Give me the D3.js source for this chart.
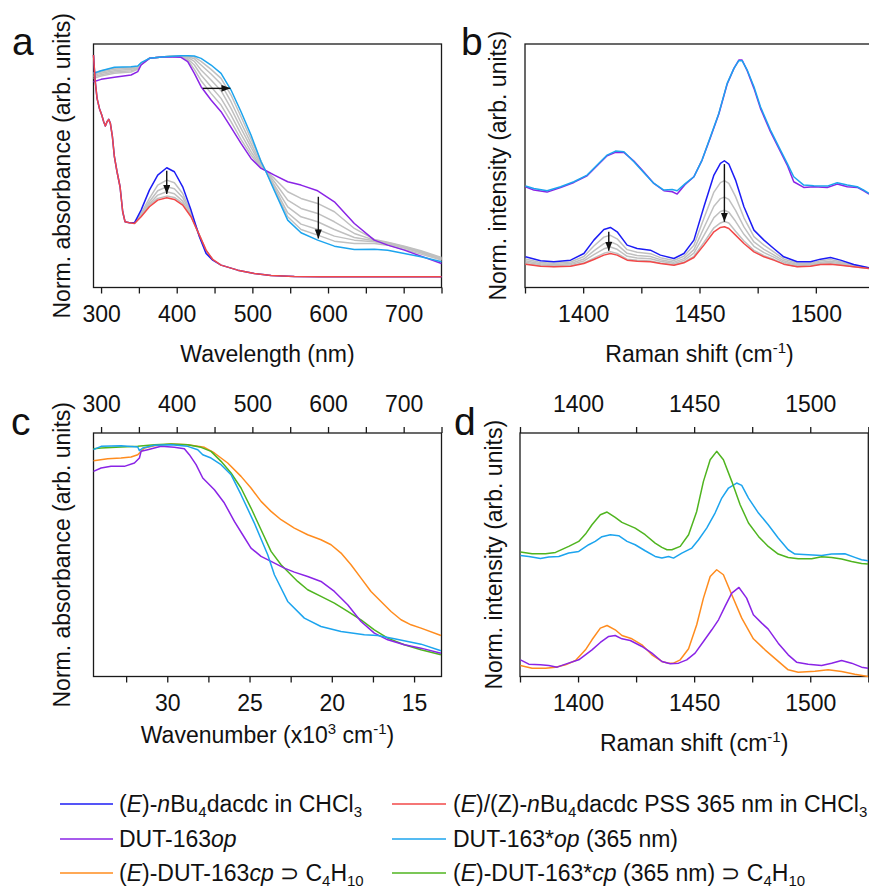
<!DOCTYPE html>
<html>
<head>
<meta charset="utf-8">
<script src="https://cdn.jsdelivr.net/npm/d3@7"></script>
<style>
  body { margin: 0; background: #fff; }
  svg { font-family: "Liberation Sans", Arial, sans-serif; }
  .frame { fill: none; stroke: #1a1a1a; stroke-width: 1.3; }
  .tick line { stroke: #1a1a1a; stroke-width: 1.3; }
  .tick text { font-size: 23px; font-family: "Liberation Sans", Arial, sans-serif; fill: #111; }
  .curve { fill: none; stroke-width: 1.5; stroke-linejoin: round; }
  .axis-title { font-size: 23px; fill: #111; }
  .panel-label { font-size: 39px; fill: #111; }
  .legend text { font-size: 23px; fill: #111; }
</style>
</head>
<body>
<svg id="fig" width="869" height="888"></svg>
<script>
// ---- panel a: UV-vis, solution (wavelength nm / norm. absorbance) ----
const solWl = [290, 292.1, 294.7, 297.8, 300.9, 303.5, 305.7, 307.9, 310.1, 312.3, 315.0, 317.6, 321.1, 325.1, 328.6, 331.7, 337.4,
  344.1, 352.9, 363.9, 374.9, 386.8, 396.9, 407.9, 418.9, 430.0, 438.8, 447.6,
  458.6, 480.6, 502.6, 524.7, 555.5, 590.7, 750];
const solBlue = [1.394, 1.244, 1.134, 1.074, 1.034, 0.994, 0.968, 0.994, 1.008, 0.984, 0.904, 0.784, 0.694, 0.604, 0.454, 0.394, 0.388,
  0.388, 0.464, 0.584, 0.674, 0.718, 0.694, 0.604, 0.464, 0.304, 0.204, 0.164,
  0.134, 0.104, 0.084, 0.072, 0.066, 0.064, 0.064];
const solRed = [1.394, 1.244, 1.134, 1.074, 1.034, 0.994, 0.968, 0.994, 1.008, 0.984, 0.904, 0.784, 0.694, 0.604, 0.454, 0.394, 0.388,
  0.384, 0.424, 0.484, 0.524, 0.538, 0.528, 0.494, 0.424, 0.314, 0.224, 0.168,
  0.134, 0.104, 0.084, 0.072, 0.066, 0.064, 0.064];
// intermediate irradiation steps, only where they differ
const solPeakWl = [344.1, 352.9, 363.9, 374.9, 386.8, 396.9, 407.9, 418.9, 430.0, 438.8, 447.6];
const solGrays = [
  [0.386, 0.444, 0.534, 0.614, 0.644, 0.628, 0.564, 0.448, 0.308, 0.212, 0.166],
  [0.386, 0.436, 0.514, 0.580, 0.604, 0.592, 0.540, 0.440, 0.310, 0.216, 0.166],
  [0.384, 0.430, 0.500, 0.554, 0.574, 0.562, 0.518, 0.432, 0.312, 0.220, 0.168],
  [0.384, 0.428, 0.494, 0.534, 0.548, 0.540, 0.504, 0.428, 0.314, 0.222, 0.168]
];

// ---- panel a: MOF op / *op ----
const mofWl = [290, 300, 317.6, 339.6, 348.5, 352.9, 363.9, 383.7, 405.7, 414.5, 423.3, 432.2, 445.4, 458.6, 471.8,
  485.0, 498.2, 511.5, 518.1, 529.1, 546.7, 564.3, 586.3, 608.4, 634.8, 661.2, 678.9, 700.9, 722.9, 750];
const mofOp = [1.234, 1.248, 1.260, 1.274, 1.294, 1.334, 1.374, 1.384, 1.380, 1.354, 1.284, 1.204, 1.124, 1.054, 0.960,
  0.864, 0.774, 0.714, 0.700, 0.674, 0.634, 0.614, 0.580, 0.514, 0.384, 0.284, 0.254, 0.224, 0.188, 0.144];
const mofOpStar = [1.284, 1.300, 1.320, 1.324, 1.328, 1.348, 1.374, 1.384, 1.390, 1.390, 1.388, 1.374, 1.334, 1.284, 1.184,
  1.054, 0.914, 0.754, 0.694, 0.580, 0.404, 0.328, 0.284, 0.248, 0.228, 0.230, 0.224, 0.204, 0.184, 0.154];
const mofGrays = [
  [1.288, 1.300, 1.314, 1.320, 1.324, 1.344, 1.374, 1.384, 1.388, 1.364, 1.308, 1.240, 1.164, 1.094, 0.994,
   0.888, 0.794, 0.720, 0.698, 0.654, 0.574, 0.534, 0.504, 0.454, 0.354, 0.288, 0.272, 0.248, 0.220, 0.180],
  [1.280, 1.292, 1.308, 1.314, 1.320, 1.342, 1.374, 1.384, 1.388, 1.372, 1.334, 1.274, 1.204, 1.134, 1.034,
   0.920, 0.814, 0.726, 0.698, 0.634, 0.524, 0.474, 0.444, 0.394, 0.324, 0.284, 0.268, 0.244, 0.216, 0.176],
  [1.272, 1.284, 1.300, 1.308, 1.316, 1.340, 1.374, 1.384, 1.388, 1.380, 1.356, 1.304, 1.244, 1.180, 1.074,
   0.954, 0.840, 0.732, 0.696, 0.614, 0.484, 0.424, 0.394, 0.348, 0.300, 0.280, 0.264, 0.240, 0.212, 0.172],
  [1.264, 1.276, 1.292, 1.300, 1.312, 1.338, 1.374, 1.384, 1.388, 1.384, 1.372, 1.334, 1.280, 1.220, 1.114,
   0.988, 0.864, 0.740, 0.696, 0.600, 0.448, 0.380, 0.348, 0.308, 0.284, 0.274, 0.260, 0.236, 0.208, 0.168],
  [1.254, 1.268, 1.284, 1.292, 1.308, 1.336, 1.374, 1.384, 1.388, 1.388, 1.382, 1.356, 1.308, 1.254, 1.154,
   1.024, 0.890, 0.756, 0.694, 0.588, 0.424, 0.348, 0.314, 0.278, 0.264, 0.264, 0.254, 0.228, 0.200, 0.164]
];
// arrows [x1, y1, x2, y2]
const arrowsA = [[434.4, 1.194, 471, 1.194], [386.8, 0.700, 386.8, 0.560], [587.2, 0.544, 587.2, 0.294]];

// ---- panel b: Raman ----
const bUpShift = [1375.2, 1378.8, 1384.5, 1390.3, 1396.0, 1401.7, 1406.0, 1410.3, 1413.9, 1417.5, 1421.8, 1426.1, 1430.4, 1434.7,
  1438.3, 1440.4, 1444.0, 1447.6, 1451.1, 1454.7, 1458.3, 1461.9, 1464.8, 1466.9, 1468.3, 1470.5, 1473.4, 1476.2, 1480.5,
  1484.8, 1487.7, 1490.5, 1494.8, 1499.1, 1504.9, 1509.2, 1513.5, 1517.8, 1520.6, 1522.9];
const bOpStar = [0.608, 0.594, 0.580, 0.604, 0.634, 0.674, 0.734, 0.794, 0.818, 0.814, 0.754, 0.688, 0.624, 0.584,
  0.588, 0.580, 0.624, 0.664, 0.764, 0.904, 1.044, 1.224, 1.314, 1.360, 1.360, 1.304, 1.204, 1.084, 0.944,
  0.824, 0.744, 0.664, 0.614, 0.610, 0.608, 0.628, 0.614, 0.604, 0.584, 0.564];
const bOp = [0.604, 0.584, 0.572, 0.600, 0.630, 0.670, 0.730, 0.790, 0.810, 0.810, 0.758, 0.692, 0.624, 0.580,
  0.574, 0.560, 0.620, 0.664, 0.764, 0.900, 1.040, 1.220, 1.314, 1.364, 1.364, 1.300, 1.194, 1.074, 0.934,
  0.814, 0.734, 0.634, 0.600, 0.604, 0.600, 0.620, 0.604, 0.600, 0.580, 0.560];
const bLowShift = [1375.2, 1381.7, 1387.4, 1394.6, 1400.3, 1404.6, 1408.9, 1411.7, 1414.6, 1418.9, 1423.2, 1428.9, 1433.2,
  1439.0, 1443.3, 1447.6, 1451.9, 1456.2, 1459.0, 1460.7, 1462.6, 1465.5, 1469.1, 1473.4, 1477.7, 1481.9, 1486.2,
  1492.0, 1497.7, 1502.0, 1506.3, 1510.6, 1516.3, 1522.9];
const bBlue = [0.184, 0.160, 0.154, 0.164, 0.204, 0.284, 0.348, 0.360, 0.334, 0.254, 0.234, 0.224, 0.194, 0.174, 0.204,
  0.284, 0.484, 0.674, 0.744, 0.760, 0.740, 0.644, 0.484, 0.344, 0.284, 0.234, 0.184, 0.154, 0.154, 0.170, 0.180,
  0.164, 0.138, 0.118];
const bRed = [0.140, 0.128, 0.124, 0.128, 0.144, 0.168, 0.194, 0.204, 0.194, 0.164, 0.158, 0.154, 0.144, 0.134, 0.148,
  0.180, 0.254, 0.334, 0.360, 0.364, 0.354, 0.314, 0.264, 0.214, 0.184, 0.164, 0.140, 0.124, 0.128, 0.138, 0.140,
  0.134, 0.124, 0.114];
const bGrays = [
  [0.171, 0.150, 0.145, 0.153, 0.186, 0.249, 0.302, 0.313, 0.292, 0.227, 0.211, 0.203, 0.179, 0.162, 0.187, 0.253, 0.415,
   0.572, 0.629, 0.641, 0.624, 0.545, 0.418, 0.305, 0.254, 0.213, 0.171, 0.145, 0.146, 0.160, 0.168, 0.155, 0.134, 0.117],
  [0.160, 0.142, 0.138, 0.144, 0.171, 0.220, 0.263, 0.274, 0.257, 0.205, 0.192, 0.186, 0.167, 0.152, 0.173, 0.227, 0.358,
   0.487, 0.533, 0.542, 0.528, 0.462, 0.363, 0.273, 0.229, 0.196, 0.160, 0.138, 0.140, 0.152, 0.158, 0.148, 0.130, 0.116],
  [0.151, 0.136, 0.132, 0.137, 0.159, 0.197, 0.232, 0.243, 0.229, 0.187, 0.177, 0.172, 0.157, 0.144, 0.162, 0.206, 0.312,
   0.419, 0.456, 0.463, 0.451, 0.397, 0.319, 0.247, 0.209, 0.182, 0.151, 0.132, 0.135, 0.146, 0.150, 0.142, 0.128, 0.115],
  [0.143, 0.130, 0.126, 0.131, 0.148, 0.176, 0.205, 0.215, 0.204, 0.170, 0.163, 0.159, 0.147, 0.137, 0.152, 0.187, 0.270,
   0.358, 0.387, 0.396, 0.387, 0.337, 0.279, 0.223, 0.191, 0.169, 0.143, 0.126, 0.130, 0.140, 0.143, 0.136, 0.125, 0.114]
];
const arrowsB = [[1411.0, 0.334, 1411.0, 0.220], [1460.7, 0.740, 1460.7, 0.394]];

// ---- panel c: UV-vis of the MOF phases ----
const cOpWl = [290, 300, 313.2, 330.8, 344.1, 350.7, 352.9, 361.7, 379.3, 396.9, 410.1, 416.7, 425.6, 434.4, 449.8, 463.0,
  476.2, 487.2, 498.2, 511.5, 524.7, 542.3, 555.5, 573.1, 590.7, 608.4, 626.0, 643.6, 661.2, 678.9, 700.9, 722.9, 749.3];
const cOp = [1.230, 1.250, 1.260, 1.260, 1.280, 1.310, 1.350, 1.360, 1.380, 1.374, 1.366, 1.330, 1.270, 1.190, 1.120, 1.040,
  0.930, 0.850, 0.770, 0.720, 0.690, 0.650, 0.626, 0.600, 0.570, 0.510, 0.430, 0.330, 0.260, 0.220, 0.190, 0.170, 0.140];
const cOpStarWl = [290, 300, 326.4, 348.5, 350.7, 355.1, 370.5, 392.5, 414.5, 427.8, 434.4, 445.4, 458.6, 471.8, 485.0,
  502.6, 520.3, 529.1, 546.7, 568.7, 590.7, 617.2, 648.0, 665.6, 687.7, 722.9, 749.3];
const cOpStar = [1.360, 1.380, 1.384, 1.376, 1.354, 1.370, 1.386, 1.390, 1.380, 1.360, 1.330, 1.310, 1.270, 1.210, 1.090,
  0.920, 0.730, 0.610, 0.450, 0.350, 0.300, 0.270, 0.250, 0.246, 0.226, 0.194, 0.154];
const cCpWl = [290, 308.8, 326.4, 339.6, 348.5, 357.3, 370.5, 392.5, 414.5, 436.6, 449.8, 467.4, 485.0, 498.2, 511.5, 524.7,
  537.9, 555.5, 573.1, 590.7, 604.0, 617.2, 630.4, 643.6, 656.8, 670.0, 683.3, 696.5, 709.7, 722.9, 749.3];
const cCp = [1.294, 1.306, 1.310, 1.316, 1.330, 1.370, 1.384, 1.394, 1.390, 1.374, 1.340, 1.280, 1.200, 1.130, 1.050, 0.990,
  0.940, 0.890, 0.850, 0.820, 0.790, 0.740, 0.670, 0.590, 0.510, 0.450, 0.390, 0.340, 0.310, 0.290, 0.246];
const cCpStarWl = [290, 300, 326.4, 348.5, 370.5, 392.5, 414.5, 432.2, 445.4, 458.6, 471.8, 485.0, 498.2, 511.5, 524.7,
  537.9, 546.7, 559.9, 573.1, 590.7, 608.4, 626.0, 643.6, 661.2, 678.9, 700.9, 722.9, 749.3];
const cCpStar = [1.366, 1.370, 1.376, 1.380, 1.390, 1.394, 1.390, 1.374, 1.350, 1.290, 1.220, 1.130, 1.010, 0.880, 0.750,
  0.670, 0.630, 0.570, 0.520, 0.480, 0.440, 0.390, 0.340, 0.280, 0.230, 0.190, 0.160, 0.130];

// ---- panel d: Raman of the MOF phases ----
const dOpShift = [1375.2, 1378.8, 1383.8, 1387.4, 1391.0, 1394.6, 1400.3, 1406.0, 1409.6, 1413.2, 1416.0, 1418.9, 1422.5, 1427.5,
  1431.8, 1436.1, 1439.7, 1443.3, 1446.8, 1450.4, 1454.0, 1457.6, 1460.5, 1463.3, 1466.2, 1469.3, 1472.6, 1475.5, 1479.1,
  1481.9, 1486.2, 1490.5, 1494.1, 1499.1, 1504.9, 1509.2, 1513.5, 1517.8, 1522.1, 1524.9];
const dOp = [0.100, 0.074, 0.070, 0.066, 0.056, 0.074, 0.100, 0.160, 0.204, 0.240, 0.246, 0.226, 0.216, 0.180, 0.140, 0.090,
  0.076, 0.080, 0.100, 0.140, 0.210, 0.280, 0.340, 0.420, 0.500, 0.534, 0.470, 0.370, 0.320, 0.284, 0.200, 0.130, 0.086,
  0.074, 0.066, 0.080, 0.096, 0.080, 0.056, 0.050];
const dOpStarShift = [1375.2, 1378.8, 1383.8, 1387.4, 1391.7, 1396.0, 1400.3, 1404.6, 1407.4, 1410.3, 1413.9, 1417.5, 1421.1,
  1424.6, 1428.9, 1433.2, 1436.1, 1439.0, 1441.1, 1444.7, 1449.0, 1451.9, 1455.4, 1459.0, 1461.9, 1464.8, 1468.3, 1470.5,
  1473.4, 1477.7, 1481.9, 1486.2, 1490.5, 1493.4, 1499.1, 1504.9, 1509.2, 1514.9, 1519.2, 1522.1, 1524.9];
const dOpStar = [0.726, 0.720, 0.708, 0.716, 0.720, 0.740, 0.750, 0.790, 0.810, 0.838, 0.850, 0.844, 0.810, 0.790, 0.754,
  0.720, 0.710, 0.720, 0.710, 0.740, 0.770, 0.820, 0.890, 0.980, 1.070, 1.130, 1.160, 1.146, 1.070, 0.980, 0.910, 0.830,
  0.760, 0.734, 0.730, 0.726, 0.734, 0.736, 0.714, 0.700, 0.694];
const dCpShift = [1375.2, 1380.2, 1386.0, 1390.3, 1394.6, 1398.9, 1403.2, 1406.0, 1409.6, 1412.5, 1416.0, 1418.9, 1423.2,
  1427.5, 1431.8, 1436.1, 1439.0, 1441.1, 1444.0, 1447.6, 1451.1, 1454.0, 1456.9, 1459.7, 1462.6, 1466.2, 1470.5, 1475.5,
  1480.5, 1485.5, 1490.5, 1494.8, 1502.0, 1507.7, 1513.5, 1519.2, 1524.9];
const dCp = [0.066, 0.050, 0.050, 0.056, 0.070, 0.096, 0.160, 0.220, 0.290, 0.306, 0.280, 0.246, 0.226, 0.190, 0.130, 0.090,
  0.080, 0.080, 0.100, 0.166, 0.310, 0.470, 0.600, 0.640, 0.610, 0.490, 0.350, 0.226, 0.160, 0.100, 0.040, 0.026, 0.032,
  0.040, 0.030, 0.014, 0.000];
const dCpStarShift = [1375.2, 1380.2, 1386.0, 1390.3, 1396.0, 1400.3, 1403.2, 1406.0, 1409.6, 1412.5, 1416.0, 1418.9, 1424.6,
  1428.9, 1433.2, 1436.1, 1438.3, 1440.4, 1444.0, 1447.6, 1451.1, 1454.0, 1456.9, 1459.7, 1462.6, 1466.2, 1469.8, 1473.4,
  1477.7, 1481.9, 1486.2, 1490.5, 1494.8, 1500.6, 1504.9, 1509.2, 1513.5, 1517.8, 1522.1, 1524.9];
const dCpStar = [0.746, 0.736, 0.736, 0.744, 0.780, 0.810, 0.854, 0.910, 0.970, 0.986, 0.954, 0.924, 0.890, 0.850, 0.800,
  0.774, 0.760, 0.760, 0.780, 0.850, 0.990, 1.170, 1.300, 1.350, 1.300, 1.170, 1.030, 0.920, 0.840, 0.780, 0.734, 0.714,
  0.706, 0.706, 0.718, 0.714, 0.704, 0.690, 0.678, 0.674];

// ---- axes ticks ----
const wlMajor = [300, 400, 500, 600, 700];
const wlMinor = [350, 450, 550, 650, 750];
const ramanMajor = [1400, 1450, 1500];
const ramanMinor = [1375, 1425, 1475, 1525];
const wnMajor = [30, 25, 20, 15];
const wnMinor = [32.5, 27.5, 22.5, 17.5];

const COLORS = {
  blue: '#1c1cf5', red: '#f24848', purple: '#8a24e6', cyan: '#1ca4ee',
  orange: '#ff8c1e', green: '#4fb41f', gray: '#c0c0c0'
};

// legend entries: [colour, [text, style] ...]
const legendCol1 = [
  ['blue', [['('], ['E', 'i'], [')-'], ['n', 'i'], ['Bu'], ['4', 'sub'], ['dacdc in CHCl'], ['3', 'sub']]],
  ['purple', [['DUT-163'], ['op', 'i']]],
  ['orange', [['('], ['E', 'i'], [')-DUT-163'], ['cp', 'i'], [' \u2283 C'], ['4', 'sub'], ['H'], ['10', 'sub']]]
];
const legendCol2 = [
  ['red', [['('], ['E', 'i'], [')/(Z)-'], ['n', 'i'], ['Bu'], ['4', 'sub'], ['dacdc PSS 365 nm in CHCl'], ['3', 'sub']]],
  ['cyan', [['DUT-163*'], ['op', 'i'], [' (365 nm)']]],
  ['green', [['('], ['E', 'i'], [')-DUT-163*'], ['cp', 'i'], [' (365 nm) \u2283 C'], ['4', 'sub'], ['H'], ['10', 'sub']]]
];

const Y_DOMAIN = [0, 1.46];
const svg = d3.select('#fig');

svg.append('defs').append('marker')
  .attr('id', 'arrowhead')
  .attr('markerUnits', 'userSpaceOnUse')
  .attr('markerWidth', 10).attr('markerHeight', 8)
  .attr('refX', 9).attr('refY', 3.5)
  .attr('orient', 'auto')
  .append('path').attr('d', 'M0,0 L9,3.5 L0,7 Z').attr('fill', '#111');

function makePanel(box, xDomain) {
  const x = d3.scaleLinear().domain(xDomain).range([box.left, box.right]);
  const y = d3.scaleLinear().domain(Y_DOMAIN).range([box.bottom, box.top]);
  const g = svg.append('g');
  return { x, y, g, box };
}

function drawCurve(p, xs, ys, color) {
  const line = d3.line().x(d => p.x(d[0])).y(d => p.y(d[1]));
  p.g.append('path')
    .datum(d3.zip(xs, ys))
    .attr('class', 'curve')
    .attr('stroke', COLORS[color])
    .attr('d', line);
}

function drawArrows(p, arrows) {
  arrows.forEach(([x1, y1, x2, y2]) => {
    p.g.append('line')
      .attr('x1', p.x(x1)).attr('y1', p.y(y1))
      .attr('x2', p.x(x2)).attr('y2', p.y(y2))
      .attr('stroke', '#111').attr('stroke-width', 1.4)
      .attr('marker-end', 'url(#arrowhead)');
  });
}

function drawAxis(p, scale, side, majors, minors) {
  const yPos = side === 'bottom' ? p.box.bottom : p.box.top;
  const axisFn = side === 'bottom' ? d3.axisBottom : d3.axisTop;
  const major = axisFn(scale).tickValues(majors).tickSize(6).tickSizeOuter(0)
    .tickPadding(side === 'bottom' ? 12.5 : 15).tickFormat(d3.format('d'));
  const minor = axisFn(scale).tickValues(minors).tickSize(6).tickSizeOuter(0).tickFormat('');
  [major, minor].forEach(ax => {
    p.g.append('g')
      .attr('transform', `translate(0,${yPos})`)
      .call(ax)
      .call(g => g.select('.domain').remove());
  });
}

function drawFrame(p) {
  const b = p.box;
  p.g.append('rect').attr('class', 'frame')
    .attr('x', b.left).attr('y', b.top)
    .attr('width', b.right - b.left).attr('height', b.bottom - b.top);
}

// rich text with italics and sub/superscripts
function richText(sel, parts) {
  let shift = 0;
  parts.forEach(([str, kind]) => {
    const target = kind === 'sub' ? 5 : kind === 'sup' ? -9 : 0;
    const t = sel.append('tspan').text(str).attr('dy', target - shift);
    shift = target;
    if (kind === 'i') t.attr('font-style', 'italic');
    if (kind === 'sub' || kind === 'sup') t.attr('font-size', '15px');
  });
}

function xTitle(p, baseline, parts) {
  const t = p.g.append('text').attr('class', 'axis-title')
    .attr('x', (p.box.left + p.box.right) / 2).attr('y', baseline)
    .attr('text-anchor', 'middle');
  richText(t, parts);
}

function yTitle(p, xBase, label) {
  p.g.append('text').attr('class', 'axis-title')
    .attr('transform', `translate(${xBase},${(p.box.top + p.box.bottom) / 2}) rotate(-90)`)
    .attr('text-anchor', 'middle')
    .text(label);
}

function panelLabel(x, y, label) {
  svg.append('text').attr('class', 'panel-label').attr('x', x).attr('y', y).text(label);
}

// ---------- panel a ----------
const pa = makePanel({ left: 93.5, right: 441.5, top: 44, bottom: 287.5 }, [290, 750]);
drawFrame(pa);
mofGrays.forEach(g => drawCurve(pa, mofWl, g, 'gray'));
drawCurve(pa, mofWl, mofOp, 'purple');
drawCurve(pa, mofWl, mofOpStar, 'cyan');
solGrays.forEach(g => drawCurve(pa, solPeakWl, g, 'gray'));
drawCurve(pa, solWl, solBlue, 'blue');
drawCurve(pa, solWl, solRed, 'red');
drawArrows(pa, arrowsA);
drawAxis(pa, pa.x, 'bottom', wlMajor, wlMinor);
xTitle(pa, 362, [['Wavelength (nm)']]);
yTitle(pa, 70, 'Norm. absorbance (arb. units)');
panelLabel(12, 55, 'a');

// ---------- panel b ----------
const pb = makePanel({ left: 525, right: 874, top: 44, bottom: 287.5 }, [1375, 1525]);
drawFrame(pb);
drawCurve(pb, bUpShift, bOp, 'purple');
drawCurve(pb, bUpShift, bOpStar, 'cyan');
bGrays.forEach(g => drawCurve(pb, bLowShift, g, 'gray'));
drawCurve(pb, bLowShift, bBlue, 'blue');
drawCurve(pb, bLowShift, bRed, 'red');
drawArrows(pb, arrowsB);
drawAxis(pb, pb.x, 'bottom', ramanMajor, ramanMinor);
xTitle(pb, 362, [['Raman shift (cm'], ['-1', 'sup'], [')']]);
yTitle(pb, 506, 'Norm. intensity (arb. units)');
panelLabel(461, 55, 'b');

// ---------- panel c ----------
const pc = makePanel({ left: 93.5, right: 441.5, top: 433, bottom: 676.5 }, [290, 750]);
const wnScale = d3.scaleLinear().domain([1e4 / 290, 1e4 / 750]).range([pc.box.left, pc.box.right]);
drawFrame(pc);
drawCurve(pc, cCpWl, cCp, 'orange');
drawCurve(pc, cCpStarWl, cCpStar, 'green');
drawCurve(pc, cOpWl, cOp, 'purple');
drawCurve(pc, cOpStarWl, cOpStar, 'cyan');
drawAxis(pc, pc.x, 'top', wlMajor, wlMinor);
drawAxis(pc, wnScale, 'bottom', wnMajor, wnMinor);
xTitle(pc, 743, [['Wavenumber (x10'], ['3', 'sup'], [' cm'], ['-1', 'sup'], [')']]);
yTitle(pc, 70, 'Norm. absorbance (arb. units)');
panelLabel(11, 435, 'c');

// ---------- panel d ----------
const pd = makePanel({ left: 520, right: 868.3, top: 433, bottom: 676.5 }, [1375, 1525]);
drawFrame(pd);
drawCurve(pd, dCpShift, dCp, 'orange');
drawCurve(pd, dOpShift, dOp, 'purple');
drawCurve(pd, dOpStarShift, dOpStar, 'cyan');
drawCurve(pd, dCpStarShift, dCpStar, 'green');
drawAxis(pd, pd.x, 'top', ramanMajor, ramanMinor);
drawAxis(pd, pd.x, 'bottom', ramanMajor, ramanMinor);
xTitle(pd, 751, [['Raman shift (cm'], ['-1', 'sup'], [')']]);
yTitle(pd, 502, 'Norm. intensity (arb. units)');
panelLabel(454, 435, 'd');

// ---------- legend ----------
const legend = svg.append('g').attr('class', 'legend');
const rowY = [804, 839, 873];
function legendColumn(entries, lineX1, lineX2, textX) {
  entries.forEach(([color, parts], i) => {
    legend.append('line')
      .attr('x1', lineX1).attr('x2', lineX2)
      .attr('y1', rowY[i]).attr('y2', rowY[i])
      .attr('stroke', COLORS[color]).attr('stroke-width', 1.5);
    const t = legend.append('text').attr('x', textX).attr('y', rowY[i] + 8);
    richText(t, parts);
  });
}
legendColumn(legendCol1, 60, 113, 119);
legendColumn(legendCol2, 392, 446, 453);
</script>
</body>
</html>
